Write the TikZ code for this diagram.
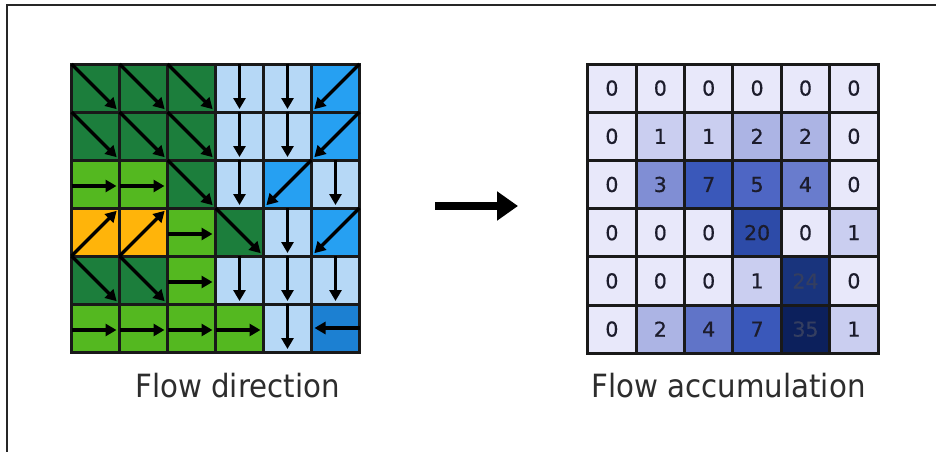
\documentclass[tikz,border=0pt]{standalone}
\usepackage{fontspec}
\usetikzlibrary{arrows.meta,calc}
\newfontfamily\labelfont[FakeStretch=0.915]{DejaVu Sans}
\newfontfamily\numfont[FakeBold=0.6]{DejaVu Sans}
\definecolor{dg}{RGB}{28,126,60}
\definecolor{lg}{RGB}{84,184,32}
\definecolor{og}{RGB}{255,180,10}
\definecolor{lb}{RGB}{182,216,246}
\definecolor{mb}{RGB}{38,160,242}
\definecolor{db}{RGB}{28,128,210}
\definecolor{a0}{RGB}{232,232,250}
\definecolor{a1}{RGB}{202,206,240}
\definecolor{a2}{RGB}{172,180,228}
\definecolor{a3}{RGB}{128,142,212}
\definecolor{a4}{RGB}{105,124,205}
\definecolor{a4b}{RGB}{96,116,200}
\definecolor{a5}{RGB}{78,102,196}
\definecolor{a7}{RGB}{58,88,186}
\definecolor{a20}{RGB}{45,75,168}
\definecolor{a24}{RGB}{25,52,125}
\definecolor{a35}{RGB}{12,32,92}
\definecolor{numtext}{RGB}{28,28,44}
\definecolor{numdark}{RGB}{52,62,96}
\definecolor{labeltext}{RGB}{45,45,45}
\tikzset{
  fcell/.style={draw=black!90, line width=3pt, minimum width=48pt, minimum height=48pt, inner sep=0pt, outer sep=0pt},
  farrow/.style={line width=3.2pt, -{Triangle[length=11pt,width=12pt]}},
  acell/.style={draw=black!90, line width=3pt, minimum width=48.4pt, minimum height=48.2pt, inner sep=0pt, outer sep=0pt, font=\numfont\fontsize{20.5}{24}\selectfont},
  caption/.style={font=\labelfont\fontsize{32}{38}\selectfont, text=labeltext, anchor=base, inner sep=0pt},
  framestroke/.style={line width=2.2pt, black!85},
  bigarrow/.style={line width=8pt, -{Triangle[length=21pt,width=28pt]}}
}
\newcommand\arrSE[1]{\draw[farrow, shorten >=4pt] (#1.north west) -- (#1.south east);}
\newcommand\arrSW[1]{\draw[farrow, shorten >=4pt] (#1.north east) -- (#1.south west);}
\newcommand\arrNE[1]{\draw[farrow, shorten >=4pt] (#1.south west) -- (#1.north east);}
\newcommand\arrS[1]{\draw[farrow, shorten >=3pt] (#1.north) -- (#1.south);}
\newcommand\arrE[1]{\draw[farrow, shorten >=3pt] ($(#1.west)+(0,2)$) -- ($(#1.east)+(0,2)$);}
\newcommand\arrW[1]{\draw[farrow, shorten >=3pt] (#1.east) -- (#1.west);}
\begin{document}
\begin{tikzpicture}[x=1pt,y=-1pt]
\useasboundingbox (0,0) rectangle (936,452);
\fill[white] (0,0) rectangle (936,452);
% frame
\coordinate (ftl) at (7,5);
\coordinate (ftr) at (936,5);
\coordinate (fbl) at (7,452);
\draw[framestroke] (ftr) -- (ftl) -- (fbl);
% flow direction grid
\def\fdlist{0/0/dg/SE,0/1/dg/SE,0/2/dg/SE,0/3/lb/S,0/4/lb/S,0/5/mb/SW,
1/0/dg/SE,1/1/dg/SE,1/2/dg/SE,1/3/lb/S,1/4/lb/S,1/5/mb/SW,
2/0/lg/E,2/1/lg/E,2/2/dg/SE,2/3/lb/S,2/4/mb/SW,2/5/lb/S,
3/0/og/NE,3/1/og/NE,3/2/lg/E,3/3/dg/SE,3/4/lb/S,3/5/mb/SW,
4/0/dg/SE,4/1/dg/SE,4/2/lg/E,4/3/lb/S,4/4/lb/S,4/5/lb/S,
5/0/lg/E,5/1/lg/E,5/2/lg/E,5/3/lg/E,5/4/lb/S,5/5/db/W}
\foreach \r/\c/\col/\dir in \fdlist {
  \node[fcell, fill=\col] (L-\r-\c) at ({95.5+48*\c},{88+48*\r}) {};
}
\foreach \r/\c/\col/\dir in \fdlist {
  \csname arr\dir\endcsname{L-\r-\c}
}
% flow accumulation grid
\foreach \r/\c/\v/\col/\tc in {
0/0/0/a0/numtext,0/1/0/a0/numtext,0/2/0/a0/numtext,0/3/0/a0/numtext,0/4/0/a0/numtext,0/5/0/a0/numtext,
1/0/0/a0/numtext,1/1/1/a1/numtext,1/2/1/a1/numtext,1/3/2/a2/numtext,1/4/2/a2/numtext,1/5/0/a0/numtext,
2/0/0/a0/numtext,2/1/3/a3/numtext,2/2/7/a7/numtext,2/3/5/a5/numtext,2/4/4/a4/numtext,2/5/0/a0/numtext,
3/0/0/a0/numtext,3/1/0/a0/numtext,3/2/0/a0/numtext,3/3/20/a20/numtext,3/4/0/a0/numtext,3/5/1/a1/numtext,
4/0/0/a0/numtext,4/1/0/a0/numtext,4/2/0/a0/numtext,4/3/1/a1/numtext,4/4/24/a24/numdark,4/5/0/a0/numtext,
5/0/0/a0/numtext,5/1/2/a2/numtext,5/2/4/a4b/numtext,5/3/7/a7/numtext,5/4/35/a35/numdark,5/5/1/a1/numtext} {
  \node[acell, fill=\col, text=\tc] (R-\r-\c) at ({587.7+24.2+48.4*\c},{64+24.1+48.2*\r}) {\v};
}
% big arrow
\coordinate (bigtail) at (435,206);
\coordinate (bighead) at (518,206);
\draw[bigarrow] (bigtail) -- (bighead);
% captions
\node[caption] (fdlabel) at (237.5,397) {Flow direction};
\node[caption] (falabel) at (728.5,397) {Flow accumulation};
\end{tikzpicture}
\end{document}
